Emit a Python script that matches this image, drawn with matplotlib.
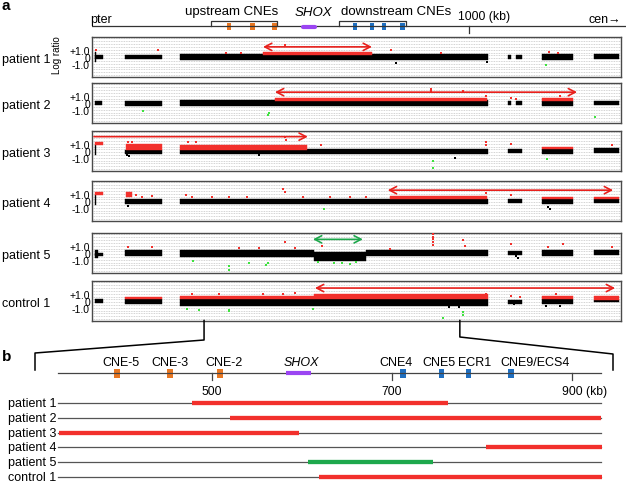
import numpy as np
import matplotlib
matplotlib.use("Agg")
import matplotlib.pyplot as plt
from matplotlib.patches import FancyArrowPatch, Rectangle

plt.rcParams['font.family'] = ['Liberation Sans', 'DejaVu Sans']

W, H = 626, 485

# ---------------- data (kb positions, log ratios) ----------------
rows = ['patient 1', 'patient 2', 'patient 3', 'patient 4', 'patient 5', 'control 1']

# dense probe bands: (start kb, end kb, low, high)
p1_black = [(55, 58, -0.7, 0.7), (55, 77, -0.35, 0.3), (131, 224, -0.35, 0.3), (270, 1048, -0.4, 0.35),
            (1098, 1106, -0.3, 0.3), (1120, 1133, -0.3, 0.3), (1184, 1263, -0.4, 0.35), (1315, 1379, -0.35, 0.35)]
p2_black = [(55, 72, -0.3, 0.3), (131, 224, -0.4, 0.3), (270, 1048, -0.45, 0.35), (1098, 1106, -0.3, 0.2),
            (1120, 1133, -0.3, 0.2), (1184, 1263, -0.45, 0.3), (1315, 1379, -0.35, 0.3)]
p3_black = [(55, 59, -0.6, 0.8), (131, 224, -0.45, 0.15), (270, 592, -0.45, 0.15), (592, 1048, -0.4, 0.3),
            (1098, 1133, -0.3, 0.3), (1184, 1263, -0.4, 0.3), (1315, 1379, -0.35, 0.35)]
p4_black = [(55, 59, -0.6, 0.8), (131, 224, -0.4, 0.3), (270, 1048, -0.45, 0.3), (1098, 1133, -0.3, 0.3),
            (1184, 1263, -0.4, 0.3), (1315, 1379, -0.35, 0.3)]
p5_black = [(55, 62, -0.7, 0.4), (55, 77, -0.5, -0.1), (131, 224, -0.5, 0.4), (270, 609, -0.55, 0.35),
            (609, 739, -1.1, 0.1), (739, 1048, -0.5, 0.35), (1098, 1133, -0.3, 0.3), (1184, 1263, -0.4, 0.35),
            (1315, 1379, -0.35, 0.35)]
c1_black = [(55, 77, -0.3, 0.25), (131, 224, -0.5, 0.3), (270, 1048, -0.7, 0.2), (1098, 1133, -0.4, 0.1),
            (1184, 1263, -0.5, 0.2), (1315, 1379, -0.2, 0.1)]

p1_red = [(480, 755, 0.3, 0.65)]
p2_red = [(510, 1046, 0.3, 0.7), (1184, 1263, 0.3, 0.7)]
p3_red = [(55, 75, 0.8, 1.3), (134, 224, 0.15, 1.0), (270, 592, 0.15, 0.85), (1184, 1263, 0.3, 0.6)]
p4_red = [(55, 75, 0.8, 1.3), (134, 150, 0.5, 1.2), (800, 1046, 0.3, 0.7), (1184, 1263, 0.3, 0.6), (1315, 1379, 0.3, 0.6)]
p5_red = []
c1_red = [(131, 224, 0.3, 0.6), (270, 609, 0.2, 0.7), (609, 1048, 0.2, 0.9), (1184, 1263, 0.2, 0.7), (1315, 1379, 0.1, 0.7)]

# single outlying probes: (kb, log ratio)
p1_redpts = [(57, 0.9), (215, 1.0), (386, 0.6), (424, 0.6), (535, 1.65), (804, 0.9), (930, 0.5), (1202, 0.7), (1225, 0.6)]
p2_redpts = [(904, 1.9), (904, 1.6), (986, 1.7), (1042, 0.9), (1107, 0.7), (1120, 0.6), (1230, 0.9)]
p3_redpts = [(140, 1.25), (150, 1.2), (290, 1.2), (310, 1.25), (535, 2.0), (538, 1.5), (626, 0.75),
             (1042, 1.2), (1042, 0.8), (1107, 1.0), (1362, 0.75)]
p4_redpts = [(160, 0.8), (175, 0.6), (200, 0.7), (285, 0.8), (300, 0.6), (350, 0.55), (395, 0.5), (440, 0.6),
             (531, 1.6), (536, 1.2), (580, 0.6), (650, 0.6), (700, 0.55), (740, 0.6), (1042, 1.1), (1107, 0.8)]
p5_redpts = [(140, 0.8), (200, 0.8), (420, 0.7), (470, 0.7), (535, 1.5), (560, 0.7), (630, 0.9), (800, 0.6),
             (908, 2.7), (908, 2.3), (908, 1.9), (908, 1.5), (908, 1.1), (986, 1.75), (990, 1.0),
             (1107, 1.2), (1200, 0.8), (1237, 1.2), (1362, 0.8)]
c1_redpts = [(300, 1.0), (370, 0.9), (480, 1.0), (530, 0.95), (560, 1.1), (1042, 0.9), (1107, 0.7), (1130, 0.5), (1220, 0.9)]

p1_greenpts = [(1194, -1.15)]
p2_greenpts = [(176, -1.2), (492, -1.75), (496, -1.5), (1319, -2.0)]
p3_greenpts = [(908, -1.5), (908, -2.4), (1198, -1.2)]
p4_greenpts = [(635, -1.2)]
p5_greenpts = [(302, -1.2), (393, -1.9), (393, -2.4), (445, -1.4), (488, -1.7), (493, -1.5),
               (620, -1.3), (660, -1.4), (680, -1.5), (700, -1.6), (715, -1.3)]
c1_greenpts = [(289, -1.1), (319, -1.3), (393, -1.3), (395, -1.5), (605, -1.1), (934, -2.4), (986, -1.6), (986, -2.0)]

p1_blackpts = [(817, -0.95), (1046, -0.7)]
p2_blackpts = []
p3_blackpts = [(137, -0.6), (142, -0.75), (470, -0.6), (964, -1.0)]
p4_blackpts = [(140, -0.7), (1200, -0.9), (1205, -1.2)]
p5_blackpts = [(1120, -0.5), (1125, -0.7)]
c1_blackpts = [(950, -0.9), (975, -0.85), (1115, -0.5), (1195, -0.8), (1230, -0.8)]

# CNV extent arrows: (start kb, end kb, level, kind)
arrows = [(480, 755, 1.4, 'gain2'), (510, 1273, 1.5, 'gain2'), (53, 593, 2.0, 'gain1'),
          (795, 1364, 1.5, 'gain2'), (606, 732, 1.9, 'loss'), (611, 1369, 1.8, 'gain2')]

black = [p1_black, p2_black, p3_black, p4_black, p5_black, c1_black]
red = [p1_red, p2_red, p3_red, p4_red, p5_red, c1_red]
redpts = [p1_redpts, p2_redpts, p3_redpts, p4_redpts, p5_redpts, c1_redpts]
greenpts = [p1_greenpts, p2_greenpts, p3_greenpts, p4_greenpts, p5_greenpts, c1_greenpts]
blackpts = [p1_blackpts, p2_blackpts, p3_blackpts, p4_blackpts, p5_blackpts, c1_blackpts]

# genomic landmarks (kb)
cne_up = ['CNE-5', 'CNE-3', 'CNE-2']
cne_up_kb = [394, 453, 509]
cne_down = ['CNE4', 'CNE5', 'ECR1', 'CNE9/ECS4']
cne_down_kb = [712, 755, 785, 832]
shox_kb = (582, 610)
up_bracket = (349, 515)
down_bracket = (672, 841)
zoom_kb = (331, 977)

# panel b CNV extents
b_bars = [(478, 762, 'gain'), (520, 932, 'gain'), (330, 597, 'gain'),
          (804, 933, 'gain'), (607, 745, 'loss'), (619, 933, 'gain')]
b_ticks = [500, 700, 900]
b_range = (329, 932)

# ---------------- style ----------------
RED = '#f2302c'
ARED = '#e8201c'
GREEN_PT = '#3ee23e'
GREEN = '#1ea84c'
ORANGE = '#e87722'
BLUE = '#1f6fc0'
PURPLE = '#9b45f2'

fig = plt.figure(figsize=(W / 100, H / 100), dpi=100)


def px_axes(x0, y0, x1, y1):
    return fig.add_axes([x0 / W, 1 - y1 / H, (x1 - x0) / W, (y1 - y0) / H])


# ---------------- panel a ----------------
A_X0, A_X1 = 92, 621
A_KB = (48, 1384)
box_top = [38, 84, 132, 182, 234, 282]
box_h = 39.5
YL = 2.8


def a_px(kb):
    return A_X0 + (kb - A_KB[0]) * (A_X1 - A_X0) / (A_KB[1] - A_KB[0])


for i, name in enumerate(rows):
    top = box_top[i]
    ax = px_axes(A_X0, top, A_X1, top + box_h)
    ax.set_xlim(*A_KB)
    ax.set_ylim(-YL, YL)
    for y in np.arange(-2.6, 2.65, 0.4):
        ax.axhline(y, color='#c4c4c4', lw=0.6, ls=(0, (1, 1)), zorder=0)
    for s, e, lo, hi in black[i]:
        ax.fill_between([s, e], lo, hi, color='black', lw=0.3, edgecolor='black', zorder=2)
    for s, e, lo, hi in red[i]:
        ax.fill_between([s, e], lo, hi, color=RED, lw=0.3, edgecolor=RED, zorder=3)
    if blackpts[i]:
        x, y = zip(*blackpts[i])
        ax.plot(x, y, 's', color='black', ms=1.6, mew=0, zorder=3)
    if redpts[i]:
        x, y = zip(*redpts[i])
        ax.plot(x, y, 's', color=RED, ms=1.8, mew=0, zorder=4)
    if greenpts[i]:
        x, y = zip(*greenpts[i])
        ax.plot(x, y, 's', color=GREEN_PT, ms=2.0, mew=0, zorder=4)
    s, e, lev, kind = arrows[i]
    style = {'gain2': '<->', 'gain1': '->', 'loss': '<->'}[kind]
    col = GREEN if kind == 'loss' else ARED
    ax.add_patch(FancyArrowPatch((s, lev), (e, lev), arrowstyle=style + ',head_length=5,head_width=2.6',
                                 mutation_scale=1, color=col, lw=1.2, shrinkA=0, shrinkB=0, zorder=5))
    ax.set_xticks([])
    ax.set_yticks([1, 0, -1])
    ax.set_yticklabels(['+1.0', '0', '-1.0'], fontsize=7.5)
    ax.tick_params(axis='y', length=0, pad=1.5)
    for sp in ax.spines.values():
        sp.set_color('#4a4a4a')
        sp.set_linewidth(1.0)
    fig.text(2 / W, 1 - (top + box_h / 2 + 2) / H, name, ha='left', va='center', fontsize=9)

fig.text(57 / W, 1 - 55 / H, 'Log ratio', rotation=90, ha='center', va='center', fontsize=7)

# header ruler of panel a
hx = px_axes(A_X0, 0, W, 36)
hx.set_xlim(A_KB[0], A_KB[0] + (W - A_X0) * (A_KB[1] - A_KB[0]) / (A_X1 - A_X0))
hx.set_ylim(36, 0)
hx.axis('off')
hx.plot(hx.get_xlim(), [27, 27], color='#333333', lw=0.9)
hx.plot([1000, 1000], [27, 33.5], color='#333333', lw=0.9)
for s, e in (up_bracket, down_bracket):
    hx.plot([s, s, e, e], [27, 21.5, 21.5, 27], color='#333333', lw=0.9)
kbpx = (A_KB[1] - A_KB[0]) / (A_X1 - A_X0)
for k in cne_up_kb:
    hx.add_patch(Rectangle((k - 2.3 * kbpx, 24), 4.6 * kbpx, 7, color=ORANGE, lw=0))
for k in cne_down_kb:
    hx.add_patch(Rectangle((k - 2.3 * kbpx, 24), 4.6 * kbpx, 7, color=BLUE, lw=0))
hx.plot(shox_kb, [28, 28], color=PURPLE, lw=3, solid_capstyle='round')
hx.text(up_bracket[1] + 1 * kbpx, 12, 'upstream CNEs', ha='right', va='center', fontsize=9.5)
hx.text(down_bracket[0] + 2 * kbpx, 12, 'downstream CNEs', ha='left', va='center', fontsize=9.5)
hx.text(np.mean(shox_kb) + 4 * kbpx, 13, 'SHOX', ha='center', va='center', fontsize=9.5, style='italic')
hx.text(1000 - 11 * kbpx, 17, '1000 (kb)', ha='left', va='center', fontsize=8.8)
hx.text(A_KB[0] - 2 * kbpx, 20, 'pter', ha='left', va='center', fontsize=9)
hx.text(hx.get_xlim()[1] - 5 * kbpx, 20, 'cen\u2192', ha='right', va='center', fontsize=9)

fig.text(2 / W, 1 - 6 / H, 'a', ha='left', va='center', fontsize=11, weight='bold')

# ---------------- panel b ----------------
bx = px_axes(0, 340, W, H)
B_PX500, B_SCALE = 212, 0.9
bx.set_xlim(500 - B_PX500 / B_SCALE, 500 + (W - B_PX500) / B_SCALE)
bx.set_ylim(H, 340)
bx.axis('off')
bkb = 1 / B_SCALE

bx.plot(b_range, [374, 374], color='#444444', lw=0.9)
for t in b_ticks:
    bx.plot([t, t], [374, 380.5], color='#444444', lw=0.9)
bx.text(500, 392, '500', ha='center', va='center', fontsize=8.7)
bx.text(700, 392, '700', ha='center', va='center', fontsize=8.7)
bx.text(900 - 10 * bkb, 392, '900 (kb)', ha='left', va='center', fontsize=8.7)

up_off = [4, 0, 4]
down_off = [-7, -3, 6, 24]
for k, lab, off in zip(cne_up_kb, cne_up, up_off):
    bx.add_patch(Rectangle((k - 3 * bkb, 370), 6 * bkb, 9, color=ORANGE, lw=0))
    bx.text(k + off * bkb, 363, lab, ha='center', va='center', fontsize=9)
for k, lab, off in zip(cne_down_kb, cne_down, down_off):
    bx.add_patch(Rectangle((k - 3 * bkb, 370), 6 * bkb, 9, color=BLUE, lw=0))
    bx.text(k + off * bkb, 363, lab, ha='center', va='center', fontsize=9)
bx.plot(shox_kb, [373.5, 373.5], color=PURPLE, lw=3, solid_capstyle='butt')
bx.text(np.mean(shox_kb) + 3 * bkb, 363, 'SHOX', ha='center', va='center', fontsize=9, style='italic')

for i, (name, (s, e, kind)) in enumerate(zip(rows, b_bars)):
    y = 404 + i * 14.8
    bx.plot(b_range, [y, y], color='#555555', lw=0.9)
    bx.plot([s, e], [y, y], color=GREEN if kind == 'loss' else RED, lw=3.1, solid_capstyle='butt')
    bx.text(b_range[0] - 2 * bkb, y, name, ha='right', va='center', fontsize=9)

fig.text(2 / W, 1 - 357 / H, 'b', ha='left', va='center', fontsize=11, weight='bold')

# zoom connector between panels
ov = px_axes(0, 0, W, H)
ov.set_xlim(0, W)
ov.set_ylim(H, 0)
ov.axis('off')
ov.patch.set_alpha(0)
bottom = box_top[-1] + box_h
ov.plot([a_px(zoom_kb[0])] * 2 + [35, 35], [bottom, 341, 354, 371], color='black', lw=1.1)
ov.plot([a_px(zoom_kb[1])] * 2 + [613, 613], [bottom, 338, 355, 371], color='black', lw=1.1)

fig.savefig('out.png', dpi=100)
